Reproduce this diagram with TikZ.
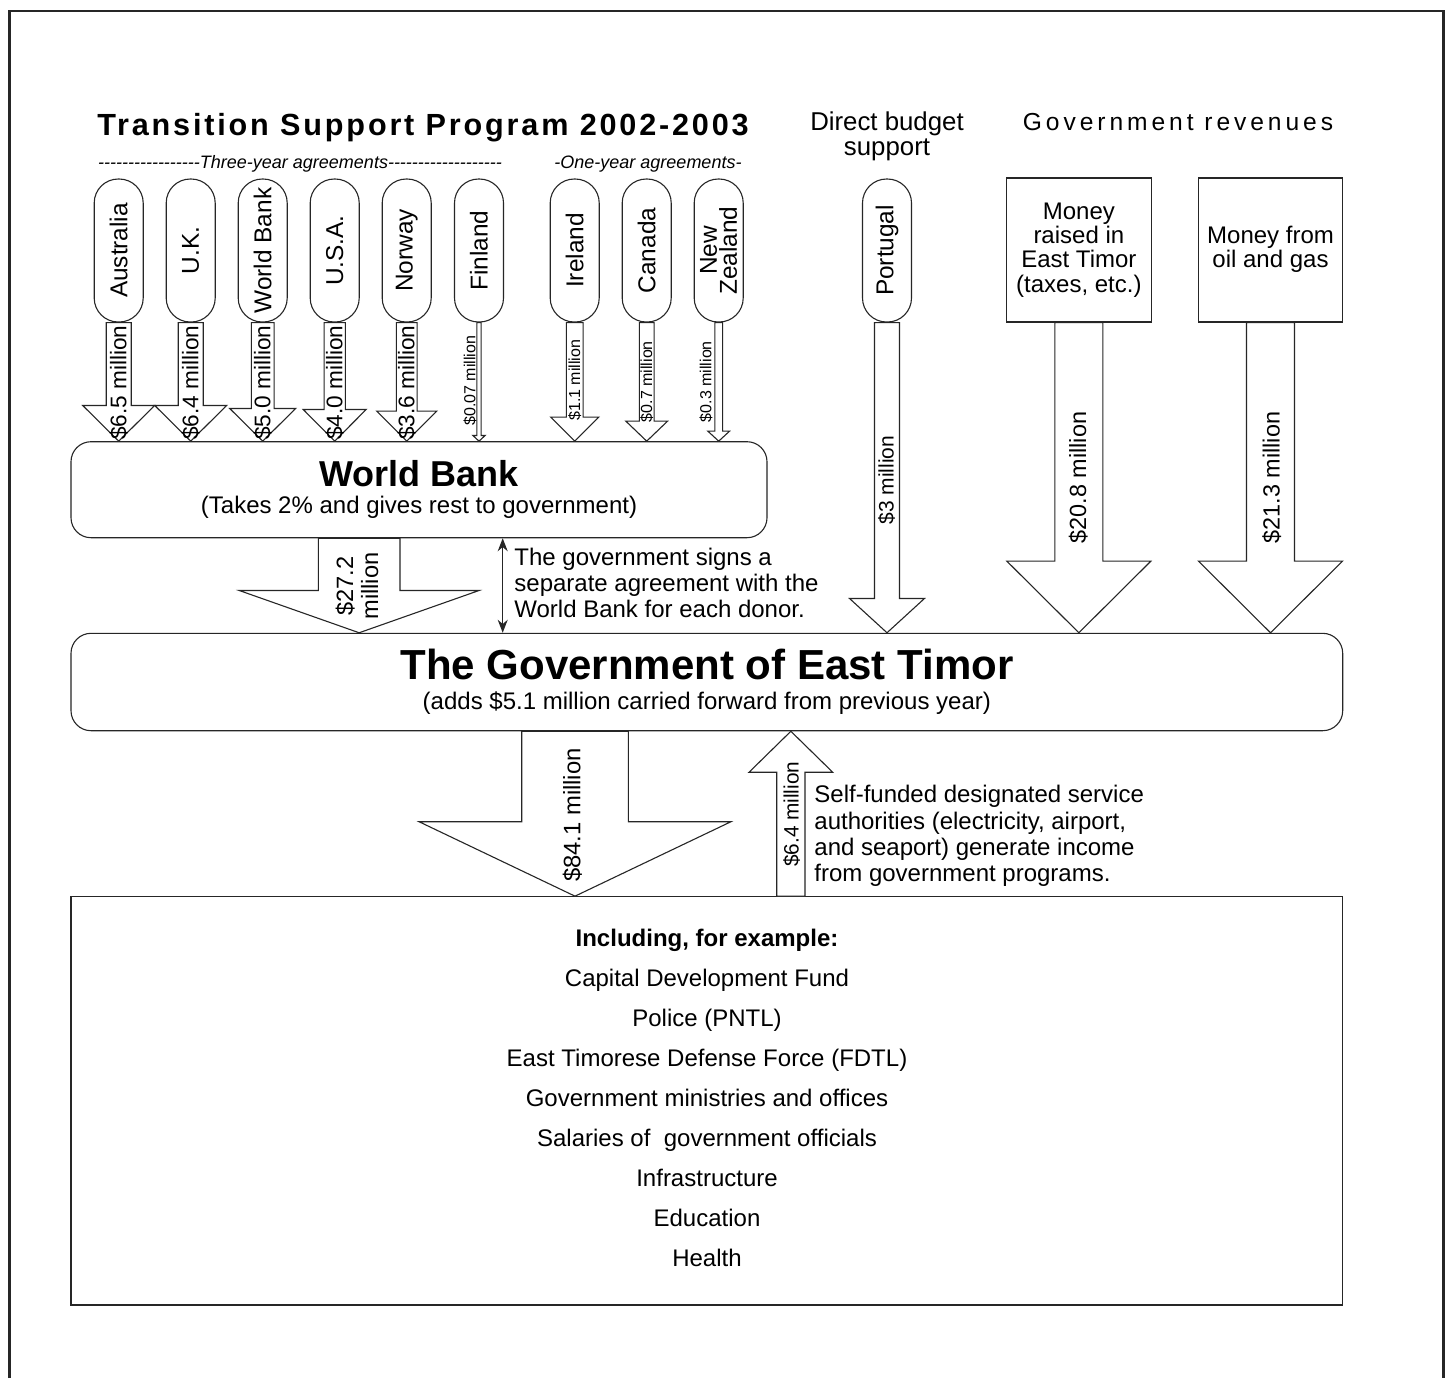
\documentclass[tikz,border=0pt]{standalone}
\usepackage{fontspec}
\setmainfont{Liberation Sans}
\usetikzlibrary{calc,arrows.meta}
\ExplSyntaxOn
\cs_new:Npn \myhy #1 { \prg_replicate:nn {#1} { - \kern 0pt } }
\ExplSyntaxOff
\newcommand\fsz[2]{\fontsize{#1pt}{#2pt}\selectfont}
\tikzset{
  ln/.style={line width=0.55pt, draw=black!85},
  pill/.style={ln, fill=white, rectangle, rounded corners=12pt, minimum width=71.5pt, minimum height=24.5pt, inner sep=0pt, rotate=90, font={\fsz{12.2}{10}}, align=center},
  rbox/.style={ln, fill=white, rectangle, minimum width=72.2pt, minimum height=72pt, inner sep=0pt},
  rbig/.style={ln, fill=white, rectangle, rounded corners=10pt, inner sep=0pt},
  blk/.style={ln, fill=white, line join=miter},
  amt/.style={rotate=90, anchor=west, inner sep=0pt, font={\fsz{11.3}{12}}},
  amts/.style={rotate=90, anchor=west, inner sep=0pt, font={\fsz{8}{9}}},
  txt/.style={anchor=base, inner sep=0pt, font={\fsz{12}{13}}},
  txtl/.style={anchor=base west, inner sep=0pt, font={\fsz{12}{13}}},
}
% #1 start, #2 tip, #3 shaft width px, #4 head width px, #5 signed head length px
\newcommand\blockarrow[5]{%
  \draw[blk] let \p1=#1, \p2=#2 in
    ({\x1-#3*0.25pt},\y1) -- ({\x1-#3*0.25pt},{\y2+#5*0.5pt}) -- ({\x2-#4*0.25pt},{\y2+#5*0.5pt})
    -- (\x2,\y2) -- ({\x2+#4*0.25pt},{\y2+#5*0.5pt}) -- ({\x1+#3*0.25pt},{\y2+#5*0.5pt})
    -- ({\x1+#3*0.25pt},\y1) -- cycle;}
\begin{document}
\begin{tikzpicture}[x=0.5pt,y=-0.5pt]
\useasboundingbox (0,0) rectangle (1450,1378);
\fill[white] (0,0) rectangle (1450,1378);
\draw[line width=1.3pt, draw=black!85] (9.5,1378) -- (9.5,11) -- (1443.5,11) -- (1443.5,1378);

% headings
\node[anchor=base, inner sep=0pt, font={\fsz{15.3}{18}\bfseries\addfontfeature{LetterSpace=9.2}}] (title) at (423,135) {Transition Support Program 2002-2003};
\node[anchor=base, inner sep=0pt, font={\fsz{9}{10}\itshape}] (three) at (300,168) {\myhy{17}Three-year agreements\myhy{19}};
\node[anchor=base, inner sep=0pt, font={\fsz{9}{10}\itshape}] (one) at (648,168) {-One-year agreements-};
\node[txt, font={\fsz{12.9}{13}}] (dbs1) at (887,130.4) {Direct budget};
\node[txt, font={\fsz{12.9}{13}}] (dbs2) at (887,155.4) {support};
\node[txt, font={\fsz{12.3}{13}\addfontfeature{LetterSpace=16}}] (grev) at (1178,130.4) {Government revenues};

% donors
\node[pill] (au) at (118.7,250.5) {Australia};
\node[pill] (uk) at (190.7,250.5) {U.K.};
\node[pill] (wbd) at (262.7,250.5) {World Bank};
\node[pill] (us) at (334.7,250.5) {U.S.A.};
\node[pill] (no) at (406.7,250.5) {Norway};
\node[pill] (fi) at (479,250.5) {Finland};
\node[pill] (ie) at (574.7,250.5) {Ireland};
\node[pill] (ca) at (646.7,250.5) {Canada};
\node[pill] (nz) at (718.7,250.5) {New\\Zealand};
\node[pill] (pt) at (887,250.5) {Portugal};

% revenue boxes
\node[rbox] (rv1) at (1078.85,250) {};
\node[rbox] (rv2) at (1270.5,250) {};
\foreach \t [count=\i] in {Money, raised in, East Timor, {(taxes, etc.)}}
  \node[txt] (rvat\i) at (1078.85,{219.4+(\i-1)*24.2}) {\t};
\node[txt] (rvbt1) at (1270.5,243.6) {Money from};
\node[txt] (rvbt2) at (1270.5,267.8) {oil and gas};

% main boxes
\node[rbig, minimum width=348pt, minimum height=48pt] (wb) at (419,489.7) {};
\node[txt, font={\fsz{18}{20}\bfseries}] (wbt1) at (419,486.7) {World Bank};
\node[txt] (wbt2) at (419,513.3) {(Takes 2\% and gives rest to government)};
\node[rbig, minimum width=635.85pt, minimum height=48.7pt] (gov) at (706.85,682) {};
\node[txt, font={\fsz{21}{24}\bfseries}] (govt1) at (706.85,679.3) {The Government of East Timor};
\node[txt] (govt2) at (706.85,709.3) {(adds \$5.1 million carried forward from previous year)};
\node[ln, fill=white, rectangle, minimum width=635.85pt, minimum height=204.15pt, inner sep=0pt] (out) at (706.85,1100.85) {};
\node[txt, font={\fsz{12}{13}\bfseries}] (inc) at (707,946.7) {Including, for example:};
\foreach \t [count=\i] in {Capital Development Fund, Police (PNTL), East Timorese Defense Force (FDTL), Government ministries and offices, Salaries of~ government officials, Infrastructure, Education, Health}
  \node[txt] (item\i) at (707,{986.7+(\i-1)*40}) {\t};

% connector helper coordinates
\coordinate (c27) at (359.15,0);
\coordinate (cdbl) at (502.7,0);
\coordinate (c84) at (575,0);
\coordinate (c64) at (790.85,0);

% block arrows
\blockarrow{(au.west)}{(au.west |- wb.north)}{25}{72}{35.7}
\blockarrow{(uk.west)}{(uk.west |- wb.north)}{25}{72}{35.7}
\blockarrow{(wbd.west)}{(wbd.west |- wb.north)}{22.7}{66}{32.7}
\blockarrow{(us.west)}{(us.west |- wb.north)}{21.3}{63}{31.7}
\blockarrow{(no.west)}{(no.west |- wb.north)}{20.7}{60}{30}
\blockarrow{(fi.west)}{(fi.west |- wb.north)}{4.3}{12.3}{5.7}
\blockarrow{(ie.west)}{(ie.west |- wb.north)}{16.7}{48}{24}
\blockarrow{(ca.west)}{(ca.west |- wb.north)}{14.7}{41.7}{20}
\blockarrow{(nz.west)}{(nz.west |- wb.north)}{7.7}{21.7}{10}
\blockarrow{(pt.west)}{(pt.west |- gov.north)}{25}{75}{34.3}
\blockarrow{(rv1.south)}{(rv1.south |- gov.north)}{48}{144}{71.6}
\blockarrow{(rv2.south)}{(rv2.south |- gov.north)}{48}{144}{71.6}
\blockarrow{(c27 |- wb.south)}{(c27 |- gov.north)}{81.7}{240}{42.3}
\blockarrow{(c84 |- gov.south)}{(c84 |- out.north)}{106.6}{311.7}{74.4}
\blockarrow{(c64 |- out.north)}{(c64 |- gov.south)}{28.3}{83.7}{-41}

\draw[ln, {Stealth[length=6.5pt,width=5pt]}-{Stealth[length=6.5pt,width=5pt]}] (cdbl |- wb.south) -- (cdbl |- gov.north);

% amount labels
\node[amt] (lau) at ($(au.west |- wb.north)+(0,-1)$) {\$6.5 million};
\node[amt] (luk) at ($(uk.west |- wb.north)+(0,-1)$) {\$6.4 million};
\node[amt] (lwbd) at ($(wbd.west |- wb.north)+(0,-1)$) {\$5.0 million};
\node[amt] (lus) at ($(us.west |- wb.north)+(0,-1)$) {\$4.0 million};
\node[amt] (lno) at ($(no.west |- wb.north)+(0,-1)$) {\$3.6 million};
\node[amts] (lfi) at ($(fi.west |- wb.north)+(-9,-15)$) {\$0.07 million};
\node[amts] (lie) at ($(ie.west |- wb.north)+(0,-20)$) {\$1.1 million};
\node[amts] (lca) at ($(ca.west |- wb.north)+(0,-18.7)$) {\$0.7 million};
\node[amts] (lnz) at ($(nz.west |- wb.north)+(-12.7,-18.7)$) {\$0.3 million};
\node[amt, anchor=center, font={\fsz{10.5}{12}}] (lpt) at (886.5,480) {\$3 million};
\node[amt, anchor=center, font={\fsz{11.7}{12}}] (lrv1) at (1078.3,477.5) {\$20.8 million};
\node[amt, anchor=center, font={\fsz{11.7}{12}}] (lrv2) at (1271.7,477.5) {\$21.3 million};
\node[amt, anchor=center, align=center, font={\fsz{11.8}{12.5}}] (l27) at (357,586) {\$27.2\\million};
\node[amt, anchor=center, font={\fsz{11.9}{12}}] (l84) at (572.3,815) {\$84.1 million};
\node[amt, anchor=center, font={\fsz{10.4}{12}}] (l64) at (791.7,814.2) {\$6.4 million};

% annotations
\foreach \t [count=\i] in {The government signs a, separate agreement with the, World Bank for each donor.}
  \node[txtl] (ann\i) at (514,{565.7+(\i-1)*25.8}) {\t};
\foreach \t [count=\i] in {Self-funded designated service, {authorities (electricity, airport,}, {and seaport) generate income}, from government programs.}
  \node[txtl] (sf\i) at (814,{802.7+(\i-1)*26.3}) {\t};
\end{tikzpicture}
\end{document}
